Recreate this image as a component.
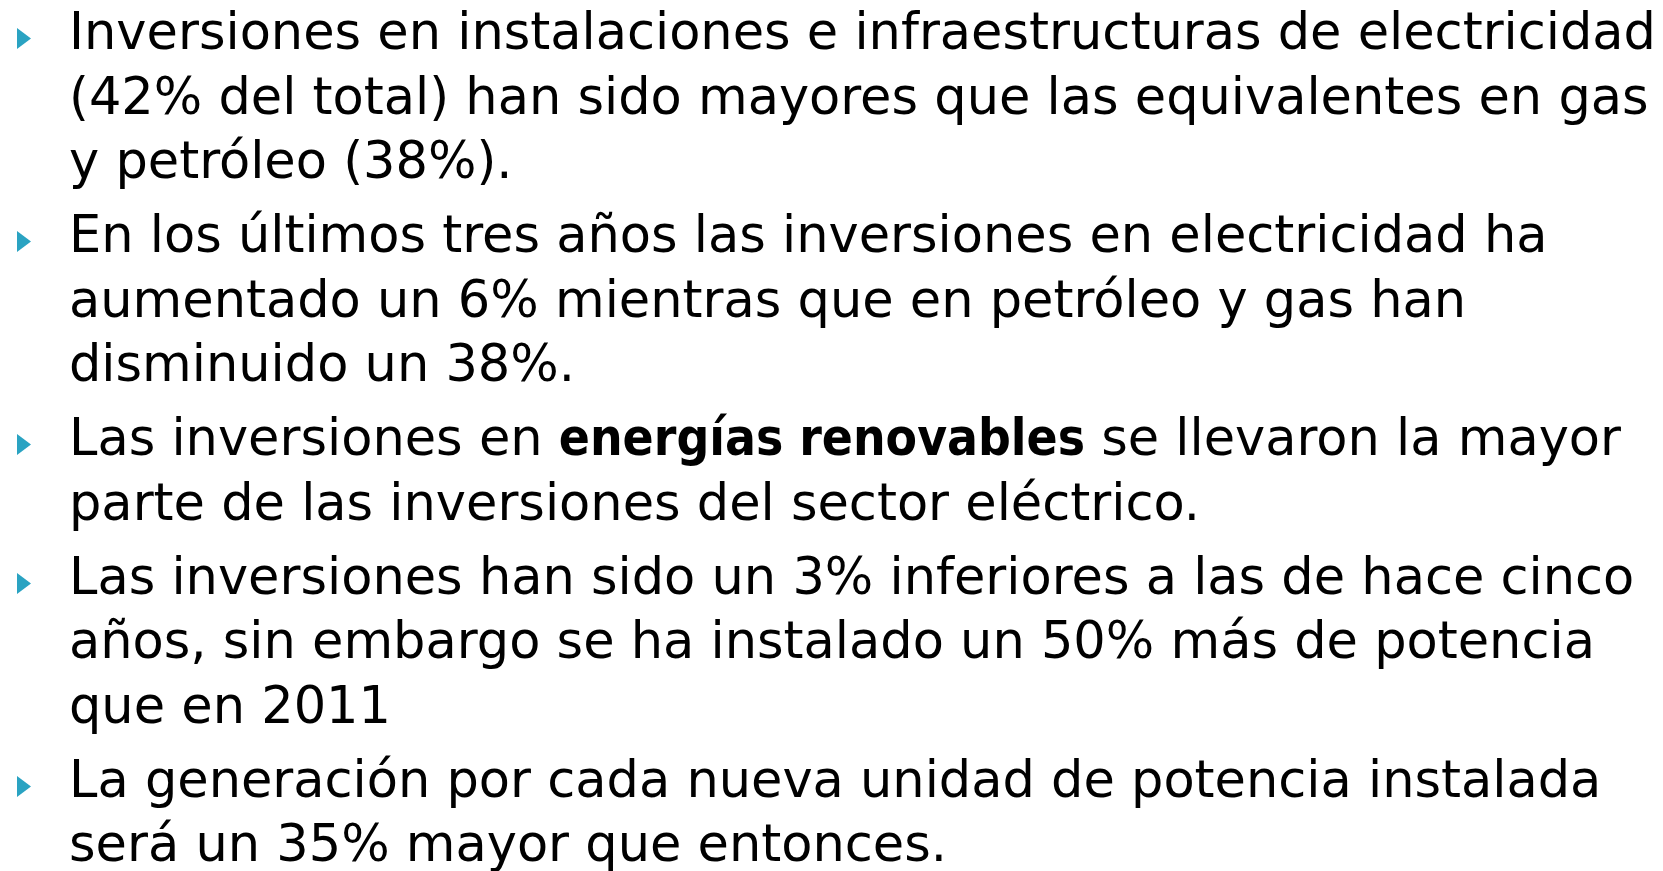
import React from "react";

// one entry per bullet, one string per rendered line; **text** is bold
const bullets: string[][] = [
  [
    "Inversiones en instalaciones e infraestructuras de electricidad",
    "(42% del total) han sido mayores que las equivalentes en gas",
    "y petróleo (38%).",
  ],
  [
    "En los últimos tres años las inversiones en electricidad ha",
    "aumentado un 6% mientras que en petróleo y gas han",
    "disminuido un 38%.",
  ],
  [
    "Las inversiones en **energías renovables** se llevaron la mayor",
    "parte de las inversiones del sector eléctrico.",
  ],
  [
    "Las inversiones han sido un 3% inferiores a las de hace cinco",
    "años, sin embargo se ha instalado un 50% más de potencia",
    "que en 2011",
  ],
  [
    "La generación por cada nueva unidad de potencia instalada",
    "será un 35% mayor que entonces.",
  ],
];

const FONT = 51;
const LINE = 64.5;
const GAP = 9.5;

function renderLine(text: string) {
  const parts = text.split("**");
  return parts.map((p, i) =>
    i % 2 === 1 ? (
      <b key={i} style={{ fontFamily: "'DejaVu Sans Condensed', 'DejaVu Sans', sans-serif" }}>
        {p}
      </b>
    ) : (
      <span key={i}>{p}</span>
    )
  );
}

export default function App() {
  return (
    <div
      style={{
        position: "absolute",
        left: 0,
        top: 0,
        width: 1663,
        height: 871,
        background: "#fff",
        overflow: "hidden",
        fontFamily: "'DejaVu Sans', Verdana, sans-serif",
        color: "#000",
      }}
    >
      <div style={{ position: "absolute", left: 69, top: 0 }}>
        {bullets.map((lines, bi) => (
          <div key={bi} style={{ position: "relative", marginBottom: GAP }}>
            <svg width={14} height={21} style={{ position: "absolute", left: -52, top: 28 }}>
              <polygon points="0,0 14,10.5 0,21" fill="#2aa3c2" />
            </svg>
            {lines.map((l, li) => (
              <div
                key={li}
                style={{ fontSize: FONT, lineHeight: `${LINE}px`, height: LINE, whiteSpace: "nowrap" }}
              >
                {renderLine(l)}
              </div>
            ))}
          </div>
        ))}
      </div>
    </div>
  );
}
